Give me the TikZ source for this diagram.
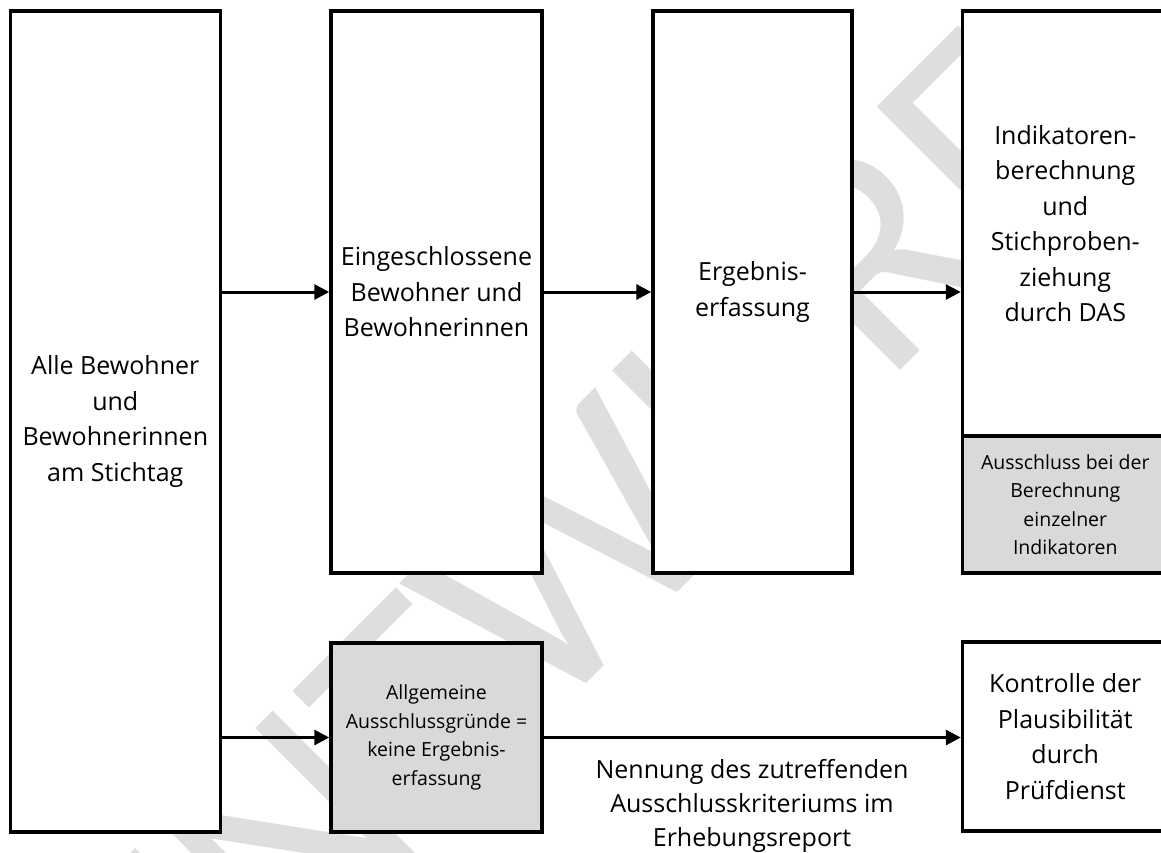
\documentclass[tikz,border=0pt]{standalone}
\usepackage{fontspec}
\setmainfont{Open Sans}
\newfontfamily\wmfont{Carlito}
\usetikzlibrary{arrows.meta}
\definecolor{boxgrey}{RGB}{217,217,217}
\definecolor{wmgrey}{RGB}{222,222,222}

\begin{document}
\begin{tikzpicture}[x=1pt,y=-1pt,
		box/.style={draw,line width=3.5pt,fill=white,align=center,inner sep=0pt,font=\fontsize{25}{35.5}\selectfont},
		greybox/.style={box,fill=boxgrey,font=\fontsize{19.5}{28.5}\selectfont},
		arr/.style={line width=3pt,-{Triangle[length=15pt,width=15pt]}}]
			\useasboundingbox (0,0) rectangle (1161,852);
			\node[rotate=45,text=wmgrey,inner sep=0pt,font=\wmfont\fontsize{316}{316}\selectfont] (wm) at (573,556) {ENTWURF};
			\node[box,minimum width=210pt,minimum height=821pt] (alle) at (115.3,421.5) {Alle Bewohner\\und\\Bewohnerinnen\\am Stichtag};
			\node[box,minimum width=211pt,minimum height=562pt] (einge) at (436.5,292) {Eingeschlossene\\Bewohner und\\Bewohnerinnen};
			\node[box,minimum width=199pt,minimum height=562pt] (erg) at (752.5,292) {Ergebnis-\\erfassung};
			\node[box,minimum width=205.5pt,minimum height=425pt] (indik) at (1065.25,223.5) {Indikatoren-\\berechnung\\und\\Stichproben-\\ziehung\\durch DAS};
			\node[greybox,minimum width=205.5pt,minimum height=137pt] (ausschl) at (1065.25,504.5) {Ausschluss bei der\\Berechnung\\einzelner\\Indikatoren};
			\node[greybox,minimum width=211pt,minimum height=189pt] (allg) at (436.5,737.5) {Allgemeine\\Ausschlussgründe =\\keine Ergebnis-\\erfassung};
			\node[box,minimum width=205.5pt,minimum height=189pt] (kontr) at (1065.25,736.5) {Kontrolle der\\Plausibilität\\durch\\Prüfdienst};
			\node[align=center,inner sep=0pt,font=\fontsize{25}{34}\selectfont] (nennung) at (752,806) {Nennung des zutreffenden\\Ausschlusskriteriums im\\Erhebungsreport};
			\draw[arr] (alle.east |- einge.west)--(einge.west);
			\draw[arr] (einge.east)--(erg.west);
			\draw[arr] (erg.east)--(erg.east -| indik.west);
			\draw[arr] (alle.east |- allg.west)--(allg.west);
			\draw[arr] (allg.east)--(allg.east -| kontr.west);
		\end{tikzpicture}
\end{document}
